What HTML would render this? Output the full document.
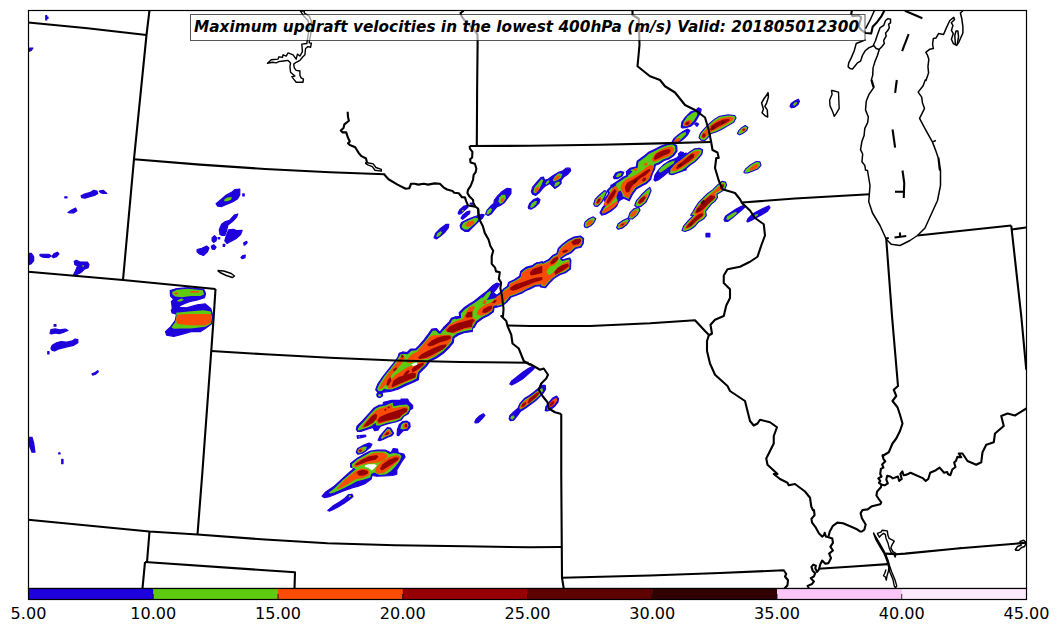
<!DOCTYPE html>
<html lang="en"><head><meta charset="utf-8"><title>Maximum updraft velocities</title>
<style>
html,body{margin:0;padding:0;background:#fff;}
body{width:1060px;height:633px;overflow:hidden;position:relative;font-family:"DejaVu Sans","Liberation Sans",sans-serif;}
svg{position:absolute;left:0;top:0;display:block;}
.b{fill:none;stroke:#000;stroke-width:2.1;stroke-linejoin:round;stroke-linecap:butt;}
.r{fill:none;stroke:#000;stroke-width:1.5;stroke-linejoin:round;}
.t{fill:none;stroke:#000;stroke-width:1.4;stroke-linejoin:round;}
.c0{fill:#1d00dc;stroke:#1d00dc;stroke-width:1.2;stroke-linejoin:round;}
.c1{fill:#5ecb10;stroke:none;}
.c0b{fill:#1d00dc;stroke:none;}
.c2{fill:#fa4c05;stroke:none;}
.c3{fill:#970000;stroke:none;}
.c4{fill:#5e0000;stroke:none;}
.hole{fill:#fff;stroke:none;}
.tick{font-size:16.67px;fill:#000;text-anchor:middle;}
.ttl{font-size:15.28px;font-weight:bold;font-style:italic;fill:#000;}
</style></head><body>
<svg width="1060" height="633" viewBox="0 0 1060 633">
<defs><clipPath id="ax"><rect x="28" y="10" width="998" height="578"/></clipPath></defs>
<rect x="0" y="0" width="1060" height="633" fill="#fff"/>
<g clip-path="url(#ax)">
<polygon class="c0" points="81.08,195.8 85.03,193.9 89.77,192.64 93.72,190.27 96.88,191.06 97.67,193.43 94.51,195.48 89.77,196.59 85.03,198.17 81.87,197.69"/>
<polygon class="c0" points="99.25,191.06 103.2,190.27 106.83,193.43 103.2,193.43 100.51,192.64"/>
<polygon class="c0" points="64.81,196.75 67.02,196.75 67.02,197.85 64.81,197.85"/>
<polygon class="c0" points="67.97,212.39 71.6,210.02 75.55,208.12 76.82,210.81 73.97,212.86 70.02,212.86"/>
<polygon class="c0" points="28.16,253.46 31.32,253.46 33.69,256.62 33.69,260.57 31.32,263.73 28.16,264.99"/>
<polygon class="c0" points="40.01,254.25 48.7,254.25 51.07,255.83 48.7,257.73 42.38,257.09 40.01,255.83"/>
<polygon class="c0" points="51.86,256.62 54.23,253.46 57.39,252.2 58.97,253.93 56.6,256.62 53.44,257.73"/>
<polygon class="c0" points="74.29,261.36 76.34,260.25 79.5,261.83 87.4,262.15 88.98,264.52 88.19,267.68 84.24,269.26 81.08,272.42 76.34,274.79 73.18,275.58 75.55,270.84 77.45,266.1 74.76,264.52"/>
<polygon class="c0" points="216.08,203.7 220.82,199.75 226.35,195.01 231.09,192.64 235.04,189.48 239.78,189.16 239.78,195.01 237.41,198.96 231.88,202.12 226.35,204.49 221.61,206.54 217.66,206.07"/>
<polygon class="c0" points="242.78,193.9 244.2,193.9 244.2,195.96 242.78,195.96"/>
<polygon class="c0" points="220.03,234.5 219.24,229.76 221.61,224.23 224.77,221.86 229.51,220.28 234.25,215.07 237.73,213.97 236.62,217.12 232.67,221.39 227.93,225.02 226.35,231.34 224.77,235.29 221.61,235.29"/>
<polygon class="c0" points="224.77,240.82 226.35,235.29 228.72,229.76 233.46,229.29 236.62,230.55 242.15,230.24 240.57,234.5 235.83,238.77 230.3,241.61 227.14,243.51"/>
<polygon class="c0" points="212.13,237.66 214.5,235.61 216.56,237.66 216.08,240.82 213.71,242.4 212.13,240.82"/>
<polygon class="c0" points="211.34,246.35 213.71,244.77 216.08,247.14 214.5,249.51 212.13,249.04"/>
<polygon class="c0" points="197.12,249.51 201.86,248.25 206.6,246.03 208.97,247.93 207.39,251.88 203.44,255.51 199.49,253.93 197.12,251.88"/>
<polygon class="c0" points="223.19,244.45 224.93,244.45 224.45,246.51 223.19,246.51"/>
<polygon class="c0" points="243.73,242.88 246.57,241.3 247.2,242.56 245.31,244.77 244.04,245.09"/>
<polygon class="c0" points="218.14,237.5 219.72,237.5 219.72,238.93 218.14,238.93"/>
<polygon class="c0" points="240.88,257.41 242.94,255.51 245.31,255.04 244.99,257.73 242.15,258.67"/>
<polygon class="c0" points="170.22,290.54 175.28,288.96 187.91,287.69 203.71,289.27 205.61,293.7 204.5,297.65 197.39,300.02 189.49,301.6 184.76,303.49 179.23,306.02 172.12,305.07 171.33,301.6 173.7,299.23 170.54,296.07"/>
<polygon class="c0" points="171.33,310.28 175.28,307.12 186.33,307.91 197.39,304.76 205.29,303.97 210.82,308.7 212.88,315.81 211.61,323.71 205.29,328.45 200.55,331.61 191.07,331.61 181.6,334.45 173.7,336.35 166.59,335.09 165.48,331.61 170.54,326.87 175.28,320.55 176.54,314.23 172.12,312.97"/>
<polygon class="c0" points="172.12,303.97 179.23,305.07 179.23,308.23 172.12,311.07"/>
<polygon class="c0" points="50.03,333.33 50.92,329.54 55.34,328.91 59.13,329.92 65.46,329.16 67.98,330.42 64.19,332.07 59.13,333.71 55.34,332.95 51.55,333.96"/>
<polygon class="c0" points="50.92,348.5 52.18,345.34 56.61,342.81 61.03,341.55 66.72,342.18 72.41,340.92 74.94,339.02 77.84,339.65 77.84,342.81 73.67,345.34 67.98,346.61 62.93,347.87 57.87,349.13 54.71,351.03 52.18,350.4"/>
<polygon class="c0" points="54.08,324.48 55.97,324.48 55.97,326.13 54.08,326.13"/>
<polygon class="c0" points="47.76,351.66 49.02,351.66 49.02,353.94 47.76,353.94"/>
<polygon class="c0" points="92,373.79 95.16,372.52 97.69,370.63 98.32,371.89 95.8,374.17 92.64,375.05"/>
<polygon class="c0" points="27.5,437.25 32,437.25 33.75,443.5 35,452.25 32,452.25 29.5,446 27.5,443.5"/>
<polygon class="c0" points="61.75,459.25 63,459.25 63,463.75 61.75,463.75"/>
<polygon class="c0" points="58.75,452.75 60,452.75 60,454 58.75,454"/>
<polygon class="c0" points="45.75,15.5 46.75,15.5 46.75,17 48,17 48,18.5 46.75,18.5 46.75,20 45.75,20"/>
<polygon class="c0" points="27.5,48 33,48 31.25,50.5 27.5,52"/>
<polygon class="c0" points="322.13,496.15 325.69,491.88 334.22,486.19 342.76,478.36 349.87,471.96 354.14,468.41 350.58,466.98 350.58,463.43 356.98,458.45 364.1,454.18 369.79,451.34 376.9,450.2 385.43,450.2 391.12,452.76 393.26,448.49 397.52,449.2 398.24,452.76 403.93,454.18 405.06,457.03 401.08,462.72 396.81,469.83 396.81,474.1 392.55,475.52 384.01,475.8 376.9,476.23 371.92,475.52 371.21,479.08 365.52,483.34 358.41,486.19 352.72,487.61 342.76,491.17 334.22,494.72 328.53,496.86 324.27,497.57"/>
<polygon class="c0" points="327.82,510.37 332.8,506.1 339.91,501.83 344.89,498.28 348.45,494.72 352.01,494.3 353,496.57 349.16,499.7 344.18,503.26 338.49,506.81 332.8,509.66 329.25,511.08"/>
<polygon class="c0" points="356.27,452.05 357.7,448.49 362.67,445.65 369.08,443.09 371.92,444.22 370.5,447.07 366.23,450.63 361.96,453.47 357.7,454.18"/>
<polygon class="c0" points="356.38,429.42 357.01,426.26 362.7,420.57 369.02,413.62 374.08,407.93 378.5,405.4 382.93,404.77 383.56,402.24 391.78,400.34 400.63,400.34 401.26,399.08 407.58,399.08 408.84,401.61 412.64,405.4 412.64,408.56 410.11,409.82 408.21,413.62 403.79,416.14 401.26,419.94 395.57,421.83 387.98,423.73 380.4,426.26 377.87,430.05 374.71,430.68 372.81,427.52 366.49,429.42 361.43,431.31 357.64,431.31"/>
<polygon class="c0" points="377.24,393.39 379.13,392.76 382.29,393.39 382.29,395.92 379.77,397.56 377.62,396.55"/>
<polygon class="c0" points="397.09,435.11 397.47,429.42 399.36,424.36 402.52,421.58 406.95,421.2 409.73,423.1 410.11,426.89 407.58,430.05 403.15,430.68 400.63,433.21 398.73,435.74"/>
<polygon class="c0" points="378.12,440.16 379.77,436.37 383.56,431.95 387.35,427.52 390.51,428.15 393.67,433.21 391.78,435.74 387.98,437 382.93,439.53 379.77,440.8"/>
<polygon class="c0" points="357.01,435.74 365.23,435.11 365.86,436.37 361.43,437.64 357.64,438.27"/>
<polygon class="c0" points="375.69,389.66 377.82,383.97 382.8,376.86 388.49,369.74 394.18,362.63 397.74,357.65 399.16,353.39 402.72,351.96 406.98,352.67 410.54,349.12 415.52,349.12 419.08,345.56 424.05,339.87 428.32,334.18 431.88,329.2 436.15,328.49 439.7,332.05 443.97,331.34 446.1,325.65 451.08,320.67 455.35,317.11 459.62,316.4 461.04,312.13 464.59,310 472.42,308.58 472.42,331.34 463.88,332.76 458.19,334.89 453.93,337.74 453.21,342.72 449.66,346.98 443.97,352.67 436.86,357.65 429.74,361.21 426.9,365.48 422.63,369.74 419.08,373.3 418.36,379.7 412.67,382.55 405.56,385.39 398.45,388.95 391.34,391.08 385.65,391.79 381.38,392.5 377.82,392.5"/>
<polygon class="c0" points="400.58,369.74 403,369.46 404.14,371.45 402.01,372.87"/>
<polygon class="c0" points="376.83,394.64 378.53,392.5 381.38,393.21 382.52,395.35 379.96,397.48 377.4,396.77"/>
<polygon class="c0" points="440,340.04 440,331.79 443.56,327.52 449.25,321.83 451.38,318.28 455.65,316.86 457.07,319.7 459.91,317.57 459.2,312.59 463.47,308.32 468.45,304.77 474.14,301.21 481.25,295.52 486.94,291.25 492.63,285.56 496.9,283 499.74,284.14 496.9,288.41 493.34,292.67 496.9,295.52 501.17,291.96 506.86,287.7 508.28,284.14 513.97,280.58 519.66,276.32 521.08,271.34 526.77,267.07 532.46,265.65 535.31,263.51 542.42,261.66 542.42,285.56 535.31,286.27 529.62,289.12 522.5,291.25 516.81,294.1 511.12,295.52 509.7,299.08 505.43,301.92 499.74,304.77 494.05,307.61 493.34,311.88 488.36,315.43 482.67,318.28 476.98,322.55 474.14,327.52 468.45,330.37 461.34,332.5 454.22,333.93 452.09,336.77 449.96,340.04"/>
<polygon class="c0" points="495.73,296.12 500,293.28 503.56,289.01 507.82,286.17 508.53,282.61 514.22,279.77 519.91,276.21 520.63,271.94 524.89,268.39 531.29,266.96 536.98,262.7 542.67,262.7 548.36,259.85 552.63,255.58 556.9,253.45 558.32,248.47 562.59,244.2 568.28,239.94 573.97,237.09 580.37,236.1 583.64,238.51 583.21,243.49 581.08,247.05 575.39,248.47 571.12,252.74 565.43,255.58 561.17,258.43 562.59,259.85 569.7,258 570.84,260.56 570.41,269.1 565.43,272.65 559.74,274.79 554.05,278.34 549.08,283.32 545.52,287.59 540.54,286.88 539.83,283.32 535.56,284.74 528.45,289.01 522.76,292.57 515.65,295.41 509.96,297.55 507.11,301.81 502.84,305.37 495.73,307.5"/>
<polygon class="c0" points="434.1,237.64 435.75,233.21 440.17,228.79 445.86,224.36 448.77,224.36 448.39,227.52 444.6,232.58 440.17,236.37 436.38,238.9"/>
<polygon class="c0" points="460.15,225.63 461.66,222.47 467.98,219.3 474.3,216.78 478.1,215.51 481.89,214.25 484.17,214.88 482.52,218.04 478.1,221.83 473.04,226.89 468.62,231.31 464.82,231.31 461.03,228.79"/>
<polygon class="c0" points="458.12,212.98 459.77,209.82 464.19,206.03 467.35,205.4 467.98,207.29 464.19,210.46 461.03,213.62 458.88,214.25"/>
<polygon class="c0" points="461.03,218.04 462.93,214.88 467.35,211.47 469.88,211.09 469.5,213.62 466.09,216.52 462.67,219.3"/>
<polygon class="c0" points="470.26,203.12 472.41,203.12 472.41,204.13 470.26,204.13"/>
<polygon class="c0" points="485.68,214.25 486.95,210.46 490.74,206.03 493.9,203.5 494.28,200.34 497.69,195.92 502.12,191.49 507.17,188.33 510.97,188.96 510.97,193.39 507.81,197.81 504.65,202.24 500.22,205.4 497.06,206.66 493.9,210.46 491.37,213.62 488.21,215.51"/>
<polygon class="c0" points="531.38,191.61 532.64,187.18 536.43,182.76 540.86,177.7 543.39,177.07 544.65,180.23 548.45,178.96 552.87,175.8 557.93,172.64 562.98,170.75 566.14,168.22 569.94,168.22 570.57,170.75 567.41,174.54 563.62,177.07 561.09,180.23 561.09,183.39 557.93,186.55 554.77,188.45 552.24,185.92 549.71,183.39 545.28,185.92 542.12,189.08 538.96,192.87 535.8,195.4 532.64,194.13"/>
<polygon class="c0" points="528.22,207.41 529.48,203.62 533.27,199.82 537.7,197.93 539.97,199.82 538.96,202.98 535.17,206.78 531.38,209.05 528.85,208.67"/>
<polygon class="c0" points="584.22,225.11 585.11,221.95 588.9,218.79 593.32,216.89 595.85,218.79 593.96,222.58 590.8,225.74 587,227.64 584.73,227"/>
<polygon class="c0" points="600.01,212.67 602.38,207.93 606.33,203.19 603.96,200.03 608.7,193.71 607.12,190.55 611.07,186.6 614.23,183.44 618.97,180.28 623.7,177.12 626.86,175.55 626.39,171.6 630.02,168.44 636.34,166.86 637.13,161.33 643.45,156.59 648.19,152.64 654.51,149.48 660.83,146.32 667.15,143.95 672.68,143.16 676.63,145.53 676.94,151.06 673.47,155.8 668.73,158.96 663.99,160.54 659.25,163.7 655.3,165.28 654.51,169.23 652.14,173.97 650.56,179.49 646.61,183.44 641.87,185.81 636.34,188.97 632.39,194.5 629.23,200.82 626.07,199.24 622.12,197.66 618.97,200.82 616.6,206.35 611.07,211.09 605.54,214.25 601.59,215.04"/>
<polygon class="c0" points="620.55,193.71 623.7,194.5 622.91,198.77 620.07,199.72"/>
<polygon class="c0" points="654.19,179.49 655.3,174.76 659.25,169.23 663.99,164.49 670.31,160.54 676.63,158.17 679.79,155.01 686.11,152.95 686.11,170.02 679.79,171.6 673.47,173.97 668.73,171.6 663.99,173.97 659.25,177.91 656.09,180.28"/>
<polygon class="c0" points="593.69,203.98 595.27,199.24 600.01,194.5 604.75,190.55 606.8,192.13 604.75,196.87 601.59,202.4 597.64,206.35 594.79,206.03"/>
<polygon class="c0" points="613.44,177.12 615.81,173.18 620.55,171.28 623.7,172.39 622.12,176.02 617.39,178.7 614.23,178.7"/>
<polygon class="c0" points="634.76,205.56 636.34,200.82 641.08,195.29 645.82,190.55 649.77,187.39 651.03,190.55 648.98,196.08 645.82,202.4 641.08,206.35 637.13,207.14"/>
<polygon class="c0" points="628.44,217.41 630.02,212.67 633.97,208.72 638.71,207.14 639.98,210.3 637.13,215.04 632.39,218.99 629.23,218.99"/>
<polygon class="c0" points="616.6,227.68 618.18,223.73 622.91,220.57 627.65,218.2 629.55,220.57 626.86,224.52 622.12,228.15 618.18,229.26"/>
<polygon class="c0" points="681.25,127.01 681.96,122.03 685.52,117.05 690.5,112.07 696.19,109.94 698.32,107.8 701.17,109.22 700.46,112.78 697.61,117.76 694.77,122.74 690.5,126.29 685.52,127.72 682.39,128"/>
<polygon class="c0" points="694.77,124.16 696.9,122.74 698.61,124.16 696.9,126.29"/>
<polygon class="c0" points="699.03,137.67 700.46,133.41 704.72,128.43 709.7,123.45 714.68,119.18 719.66,116.34 728.19,114.91 734.59,115.63 736.02,117.76 733.88,122.03 728.19,125.58 721.79,129.14 715.39,132.27 711.12,133.41 708.28,136.96 704.72,140.52 701.17,140.23"/>
<polygon class="c0" points="737.44,133.41 738.86,130.56 741.71,127.72 745.26,125.58 747.82,127.43 746.69,130.56 743.13,133.12 739.57,134.83"/>
<polygon class="c0" points="672.01,141.94 674.14,138.39 678.41,134.83 683.39,131.27 687.65,129.14 689.79,130.56 687.65,134.83 683.39,139.1 679.12,141.94"/>
<polygon class="c0" points="669.16,173.95 669.87,168.97 674.14,163.99 679.12,160.43 684.1,156.17 689.79,151.9 694.77,148.77 699.74,148.34 702.59,149.77 701.88,154.03 698.32,158.3 694.77,161.86 690.5,164.7 686.23,168.26 681.96,171.1 676.27,173.24 672.01,174.66"/>
<polygon class="c0" points="654.22,180.35 654.94,176.08 657.78,171.1 662.76,166.12 668.45,161.86 674.14,159.72 678.41,159.72 675.56,163.28 672.01,166.83 668.45,171.81 663.47,176.08 658.49,179.64 655.65,181.06"/>
<polygon class="c0" points="678.41,154.03 680.54,151.9 683.39,152.61 681.96,155.46 679.12,155.88"/>
<polygon class="c0" points="682.11,230.46 683.53,226.19 688.51,220.5 693.49,215.52 690.65,215.23 692.78,211.96 695.63,206.98 698.47,202.72 703.45,197.74 707.72,193.47 712.7,189.91 717.67,184.94 721.94,181.38 725.5,182.09 726.49,184.94 724.79,189.2 720.52,192.05 716.96,194.18 717.39,197.74 714.83,201.29 711.27,204.14 708.43,207.7 705.58,211.25 706.29,215.52 703.45,219.08 698.47,221.92 694.91,226.19 689.94,229.74 684.96,231.45"/>
<polygon class="c0" points="724.08,219.79 725.5,216.23 730.48,212.67 736.17,209.12 740.43,206.7 743.28,205.56 744.7,207.27 741.15,210.54 736.88,214.1 731.9,218.36 727.63,221.49 724.79,221.21"/>
<polygon class="c0" points="746.83,221.21 748.26,218.36 752.52,214.1 758.93,210.54 764.62,207.7 768.88,205.85 770.02,207.7 767.46,211.25 761.77,214.81 756.08,217.65 751.1,220.5 747.83,221.92"/>
<polygon class="c0" points="706.01,233.3 709.85,233.3 709.85,236.86 706.01,236.86"/>
<polygon class="c0" points="790.03,106.34 791.17,103.49 794.72,100.93 798.28,99.22 799.42,101.36 797.99,104.63 794.72,107.05 791.45,107.76"/>
<polygon class="c0" points="743.94,172.06 745.65,168.93 750.63,164.66 756.32,161.53 759.87,161.81 761.01,165.37 757.74,168.93 752.76,171.06 747.78,172.91 744.51,172.91"/>
<polygon class="c0" points="509.82,384.08 511.72,380.92 517.41,376.49 523.1,372.07 528.79,368.27 533.21,366.13 535.11,367.01 532.58,370.17 527.52,374.6 522.47,379.02 516.14,382.81 511.72,385.09"/>
<polygon class="c0" points="509.19,418.84 509.82,415.68 513.62,411.89 518.04,408.1 519.94,403.67 524.36,398.62 529.42,395.46 534.48,391.66 538.9,387.87 542.06,385.34 545.22,385.34 545.6,389.13 543.32,392.93 539.53,396.72 535.74,400.51 530.68,404.3 525.63,408.1 520.57,411.26 517.41,415.68 513.62,420.11 510.46,420.74"/>
<polygon class="c0" points="545.22,410.63 545.85,406.83 549.01,402.41 552.81,397.98 556.6,396.09 558.5,398.62 557.86,402.41 554.7,406.2 550.91,409.36 547.37,410.88"/>
<polygon class="c0" points="474.8,422 476.32,418.84 480.11,415.43 483.27,413.79 484.92,415.43 482.01,418.84 478.22,422.64 475.31,423.02"/>
<polygon class="c1" points="82.19,265.31 83.77,264.99 84.08,266.57 82.5,266.89"/>
<polygon class="c1" points="223.98,199.75 227.14,197.38 231.88,197.06 231.09,199.75 227.14,201.33 224.45,201.33"/>
<polygon class="c1" points="172.12,292.12 176.86,289.75 187.91,288.64 202.92,290.22 204.03,294.49 200.55,296.07 191.07,296.07 181.6,297.17 175.28,296.54 172.43,294.49"/>
<polygon class="c1" points="177.17,300.33 181.6,298.44 183.97,299.7 180.81,301.6 177.65,301.6"/>
<polygon class="c1" points="176.07,312.65 187.91,311.39 203.71,310.28 210.82,311.39 211.93,317.39 210.82,323.71 205.29,326.87 191.07,328.45 181.6,328.45 173.7,328.77 171.33,327.19 175.28,322.13 176.54,315.81"/>
<polygon class="c1" points="328.86,492.59 330.01,493.51 334.16,492.4 342.68,488.85 351.2,484.59 356.88,481.32 356.9,481.31 356.92,481.3 356.93,481.3 364.04,479.6 370.33,477.5 371.01,474.06 371.02,474.04 371.03,474.02 371.03,474 371.04,473.99 371.06,473.97 371.07,473.96 371.09,473.94 371.1,473.93 371.12,473.92 373.96,472.49 373.98,472.48 374,472.48 374.02,472.47 374.04,472.47 374.06,472.47 374.08,472.47 374.09,472.48 374.11,472.48 374.13,472.49 379.77,475.02 386.08,474.19 390.99,471.09 395.24,466.85 399.49,461.19 401.56,456.36 399.55,454.08 393.98,452.97 389.75,454.09 389.73,454.1 389.71,454.1 389.69,454.1 389.67,454.1 389.65,454.09 389.63,454.09 389.61,454.08 389.6,454.07 385.37,451.54 378.32,451.25 371.27,451.82 365.62,455.06 365.62,455.07 357.81,459.33 351.79,464.23 352.19,467.56 355.63,468.93 355.65,468.94 355.67,468.95 355.69,468.96 355.7,468.98 355.71,468.99 355.73,469.01 355.74,469.02 355.74,469.04 355.75,469.06 355.76,469.08 355.76,469.1 355.76,469.12 355.76,469.14 355.76,469.16 355.75,469.18 355.75,469.2 355.74,469.21 355.73,469.23 355.72,469.25 355.7,469.26 355.69,469.27 351.42,472.82 342.9,479.94 334.36,488.46 334.34,488.48 328.86,492.59"/>
<polygon class="c1" points="348.45,495.72 350.58,495.15 351.29,496.57 349.16,497.57"/>
<polygon class="c1" points="357.27,451.34 359.12,448.49 363.39,446.79 366.94,446.79 365.8,449.91 361.96,452.48 358.41,453.04"/>
<polygon class="c1" points="357.62,429.4 358.36,430.45 360.74,429.86 366.42,427.96 371.45,426.08 375.21,422.95 375.23,422.93 375.24,422.92 375.26,422.92 375.28,422.91 375.3,422.9 375.32,422.9 375.34,422.9 375.36,422.9 375.37,422.9 375.39,422.91 375.41,422.91 375.43,422.92 375.45,422.93 375.46,422.94 375.48,422.95 375.49,422.97 375.5,422.98 375.51,423 375.52,423.02 375.53,423.03 375.53,423.05 376.13,425.43 379.73,425.43 386.65,422.91 386.67,422.91 386.68,422.9 394.25,421.39 400.51,419.13 402.99,416.02 403.01,416 403.02,415.99 403.04,415.97 406.81,413.48 409.28,409.75 409.52,406.75 406.88,404.59 400.65,404.97 393.71,406.23 393.69,406.23 393.67,406.23 393.65,406.23 393.63,406.23 393.61,406.22 393.59,406.21 393.58,406.21 393.56,406.2 393.54,406.19 393.53,406.17 393.52,406.16 393.51,406.14 393.5,406.13 393.49,406.11 393.48,406.09 393.48,406.08 392.65,402.5 389.33,403.68 385.55,405.58 385.53,405.59 385.52,405.59 385.5,405.6 379.2,406.85 375.46,408.72 370.43,413.76 364.11,421.33 364.1,421.34 359.08,426.38 357.62,429.4"/>
<polygon class="c1" points="378.12,394.65 379.77,394.02 381.41,395.28 380.15,396.8 378.5,396.3"/>
<polygon class="c1" points="400.24,428.65 403.16,429.46 407.07,428.61 408.62,425.62 407.44,422.67 403.86,422.67 401.43,424.48 400.24,428.65"/>
<polygon class="c1" points="380.69,438.16 382.27,438.68 385.36,436.83 385.38,436.82 385.4,436.81 389.78,435.31 392.15,433.17 389.76,429.35 387.43,429 383.09,433.96 380.69,438.16"/>
<polygon class="c1" points="358.65,435.99 359.92,435.99 359.92,437.26 358.65,437.26"/>
<polygon class="c1" points="377.06,388.93 378.63,391.16 382,390.89 384.08,388.81 384.09,388.79 384.11,388.78 384.13,388.77 384.15,388.76 384.17,388.76 384.19,388.75 384.21,388.75 384.23,388.75 384.25,388.75 384.27,388.76 387.09,389.46 391.31,389.46 397.66,387.33 404.76,383.79 404.78,383.78 411.87,380.94 416.76,378.15 417.88,372.55 417.89,372.53 417.9,372.51 417.9,372.49 417.92,372.48 417.93,372.46 421.34,368.48 421.36,368.46 425.6,364.64 428.44,359.97 428.45,359.95 428.46,359.94 428.48,359.92 428.49,359.91 428.51,359.9 428.52,359.89 435.62,356.49 442.7,351.39 448.09,346.13 451.6,341.92 452.59,336.99 452.6,336.97 452.61,336.95 452.62,336.93 452.63,336.92 452.64,336.9 452.65,336.88 452.67,336.87 457.36,333.31 457.38,333.3 457.4,333.29 457.42,333.28 463.82,331.15 463.83,331.15 463.85,331.14 472.22,329.74 472.22,310.23 466.81,310.9 463.33,313.69 461.22,317.91 461.21,317.93 461.2,317.94 461.19,317.96 461.17,317.97 461.16,317.98 461.14,317.99 461.12,318 461.1,318.01 461.09,318.01 456.85,319.01 452.35,322.24 447.68,327.19 444.42,332.86 444.41,332.88 444.4,332.89 444.39,332.91 444.37,332.92 444.35,332.93 444.34,332.94 444.32,332.95 444.3,332.95 444.28,332.96 439.02,333.67 439,333.67 438.98,333.67 438.96,333.67 438.94,333.66 438.92,333.66 438.9,333.65 438.88,333.64 438.86,333.63 438.85,333.61 435.65,330.41 432.7,330.82 429.62,335.01 429.62,335.01 425.35,340.7 425.34,340.71 420.22,346.4 420.21,346.41 416.37,350.25 416.36,350.26 416.34,350.28 416.32,350.29 416.31,350.3 416.29,350.3 416.27,350.31 416.25,350.31 411.34,350.73 407.84,354.24 407.83,354.25 407.81,354.27 407.79,354.28 407.78,354.28 407.76,354.29 407.74,354.3 407.72,354.3 407.7,354.3 407.68,354.3 404.85,354.01 400.69,354.29 399.33,356.34 395.77,362.03 395.76,362.04 390.07,369.15 384.38,376.27 379.42,384.07 377.06,388.93"/>
<polygon class="c1" points="378.25,395.06 379.67,393.93 381.1,395.06 379.96,396.49"/>
<polygon class="c1" points="441.34,339.84 448.98,339.84 450.92,336.11 450.93,336.09 450.94,336.08 450.95,336.06 454.07,332.65 454.09,332.64 454.1,332.63 454.12,332.62 454.14,332.61 454.16,332.6 454.18,332.59 461.29,331.18 467.8,329.04 473.15,326.38 475.96,321.31 475.96,321.3 475.98,321.28 475.99,321.27 476,321.26 476.01,321.25 481.99,316.98 482.01,316.97 482.02,316.96 487.7,314.13 492.17,311.05 493,306.57 493.01,306.56 493.01,306.54 493.02,306.52 493.03,306.5 493.04,306.49 493.05,306.47 493.07,306.46 493.08,306.45 493.1,306.44 493.11,306.43 499.08,303.59 504.76,300.75 508.68,297.95 510.08,294.31 510.09,294.29 510.1,294.27 510.11,294.26 510.12,294.24 510.14,294.23 510.15,294.22 510.17,294.21 510.19,294.2 510.21,294.19 510.23,294.18 516.46,292.77 522.13,289.93 522.15,289.92 522.16,289.92 529.26,287.79 534.93,284.96 534.95,284.95 534.96,284.95 534.98,284.94 535,284.94 542.22,284.24 542.22,263.06 535.96,264.83 533.15,266.95 533.13,266.96 533.12,266.97 533.1,266.98 533.08,266.98 527.43,268.39 522.1,272.45 520.7,277.36 520.7,277.38 520.69,277.4 520.68,277.42 520.67,277.43 520.66,277.45 520.64,277.46 520.63,277.47 514.94,281.74 514.93,281.75 509.29,285.27 507.9,288.76 507.89,288.78 507.88,288.8 507.87,288.81 507.86,288.83 507.84,288.84 507.83,288.85 502.14,293.12 497.74,296.81 497.73,296.82 497.71,296.83 497.7,296.84 494.14,298.54 494.12,298.55 494.11,298.55 494.09,298.56 486.98,299.99 486.96,299.99 486.94,299.99 486.92,299.99 486.9,299.99 486.88,299.98 486.87,299.98 486.85,299.97 486.83,299.96 486.82,299.95 486.8,299.93 486.79,299.92 486.78,299.9 486.77,299.89 486.76,299.87 486.75,299.85 486.75,299.83 486.74,299.82 486.74,299.8 486.74,299.78 486.74,299.76 486.75,299.74 486.75,299.72 486.76,299.7 486.77,299.69 486.78,299.67 488.91,296.83 490.99,292.65 490.39,290.84 487.07,292.82 482.82,297.78 482.81,297.79 482.79,297.81 482.78,297.82 482.76,297.83 482.74,297.84 482.72,297.84 482.7,297.85 482.69,297.85 482.67,297.85 482.65,297.85 482.63,297.85 482.61,297.84 482.59,297.83 482.57,297.82 482.56,297.81 482.54,297.8 482.53,297.79 482.51,297.77 482.07,297.22 475.11,302.51 475.09,302.52 469.41,305.93 464.6,309.61 460.84,313.38 461.25,318.54 461.25,318.56 461.25,318.58 461.25,318.6 461.24,318.62 461.23,318.64 461.22,318.66 461.21,318.68 461.2,318.69 461.19,318.71 461.17,318.72 461.15,318.73 457.45,321.01 457.44,321.02 457.42,321.03 457.4,321.03 457.38,321.04 457.36,321.04 457.34,321.04 457.32,321.04 457.3,321.03 457.29,321.03 457.27,321.02 457.25,321.01 457.23,321 457.22,320.99 457.2,320.98 457.19,320.96 455.3,318.53 452.23,319.86 450.41,322.93 450.4,322.95 450.39,322.96 445.84,328.08 445.83,328.1 441.34,332.31 441.34,339.84"/>
<polygon class="c1" points="523.21,280.58 526.77,277.74 529.62,276.32 531.04,277.74 527.48,280.58 524.64,282.01"/>
<polygon class="c1" points="496.83,296.71 496.83,306.02 502.31,304.38 506.28,301.07 509.05,296.94 509.11,296.85 509.19,296.76 509.28,296.69 509.37,296.62 509.47,296.57 509.57,296.52 515.25,294.38 522.26,291.59 527.87,288.08 527.88,288.07 534.99,283.8 535.1,283.74 535.21,283.7 539.48,282.28 539.59,282.25 539.7,282.23 539.81,282.22 539.92,282.22 540.02,282.24 540.13,282.26 540.23,282.3 540.33,282.34 540.43,282.4 540.52,282.46 540.6,282.53 540.67,282.62 540.74,282.7 540.8,282.8 540.84,282.9 540.88,283 540.91,283.1 541.47,285.9 545.07,286.41 548.24,282.62 548.3,282.54 553.27,277.56 553.37,277.48 553.47,277.41 559.16,273.86 559.25,273.8 559.35,273.76 564.91,271.67 569.34,268.51 569.73,260.77 569.07,259.3 562.87,260.91 562.77,260.94 562.66,260.95 562.56,260.95 562.45,260.94 562.35,260.92 562.25,260.9 562.15,260.86 562.06,260.81 561.97,260.76 561.89,260.7 561.81,260.63 560.39,259.21 560.32,259.13 560.26,259.04 560.2,258.95 560.15,258.85 560.12,258.75 560.09,258.64 560.08,258.54 560.07,258.43 560.08,258.32 560.09,258.22 560.12,258.11 560.15,258.01 560.2,257.91 560.26,257.82 560.32,257.73 560.39,257.65 560.47,257.58 560.56,257.52 564.82,254.67 564.94,254.6 570.47,251.84 574.61,247.69 574.69,247.63 574.76,247.57 574.85,247.51 574.94,247.47 575.03,247.43 575.12,247.4 580.37,246.09 582.14,243.14 582.49,239.03 580.09,237.26 574.31,238.15 568.86,240.88 563.31,245.03 559.3,249.05 557.96,253.75 557.92,253.86 557.87,253.96 557.81,254.06 557.75,254.15 557.67,254.24 557.58,254.31 557.49,254.38 557.39,254.43 553.28,256.48 549.14,260.63 549.05,260.71 548.95,260.78 548.85,260.83 543.16,263.68 543.07,263.72 542.97,263.76 542.87,263.78 542.77,263.8 542.67,263.8 537.35,263.8 531.95,267.84 531.85,267.91 531.75,267.96 531.64,268 531.53,268.03 525.39,269.41 521.65,272.52 520.99,276.39 520.97,276.49 520.94,276.59 520.9,276.69 520.85,276.78 520.79,276.86 520.73,276.94 520.66,277.02 520.58,277.08 520.49,277.14 514.8,280.7 514.71,280.75 509.5,283.35 508.9,286.39 508.87,286.49 508.84,286.59 508.79,286.69 508.73,286.78 508.67,286.87 508.6,286.95 508.52,287.02 508.43,287.09 504.3,289.84 500.84,293.98 500.77,294.06 500.69,294.13 500.61,294.2 496.83,296.71"/>
<polygon class="c1" points="546.94,269.1 549.79,266.25 553.34,266.96 551.21,270.52 548.36,272.65"/>
<polygon class="c1" points="523.47,279.05 527.74,276.92 530.58,278.34 526.32,281.19"/>
<polygon class="c1" points="562.59,246.34 566.15,244.2 568.28,245.63 564.72,248.47"/>
<polygon class="c1" points="436.13,236.37 437.64,233.21 440.8,230.94 442.07,232.58 439.92,235.49 437.39,237"/>
<polygon class="c1" points="461.66,225.63 463.56,222.84 469.25,219.94 475.57,217.41 478.73,218.67 476.2,222.47 471.78,226.26 467.98,229.42 464.44,229.42 462.29,227.9"/>
<polygon class="c1" points="461.66,211.09 462.93,209.44 463.94,210.46 462.67,211.97"/>
<polygon class="c1" points="498.32,201.61 499.34,197.18 502.12,194.65 505.28,194.65 505.91,198.45 503.13,202.24 500.22,203.88"/>
<polygon class="c1" points="486.31,213.99 487.58,210.46 490.49,207.93 492.26,209.19 490.74,212.35 488.21,214.5"/>
<polygon class="c1" points="533.27,192.24 534.54,187.18 538.33,182.76 541.49,178.96 543.39,180.23 541.49,184.65 538.96,189.71 535.8,193.5"/>
<polygon class="c1" points="545.28,184.02 547.18,180.86 549.71,180.23 548.82,182.76 546.55,184.65"/>
<polygon class="c1" points="552.62,180.23 554.77,176.43 558.56,173.27 562.35,173.91 561.09,177.7 557.29,180.23 554.13,181.49"/>
<polygon class="c1" points="554.13,185.92 555.4,182.76 558.56,181.49 560.2,182.76 557.93,185.28 555.4,186.8"/>
<polygon class="c1" points="530.11,207.03 531.63,203.62 534.92,201.09 537.07,201.09 536.18,203.99 533.27,207.03 531.13,208.04"/>
<polygon class="c1" points="584.84,225.11 585.22,226.51 586.94,227 590.44,225.25 593.47,222.22 595.09,218.97 593.24,217.58 589.22,219.31 585.64,222.29 584.84,225.11"/>
<polygon class="c1" points="601.63,212.57 602.23,213.48 605.04,212.92 610.26,209.94 615.44,205.5 617.68,200.27 617.74,200.15 617.81,200.04 617.89,199.93 617.98,199.83 621.13,196.67 621.23,196.58 621.34,196.5 621.45,196.43 621.58,196.37 621.71,196.32 621.84,196.29 621.97,196.27 622.11,196.26 622.24,196.27 622.38,196.28 622.51,196.32 622.64,196.36 626.59,197.94 626.7,197.99 628.6,198.94 631.14,193.87 631.19,193.78 631.25,193.69 635.2,188.16 635.29,188.04 635.4,187.93 635.52,187.84 635.65,187.75 641.18,184.59 641.24,184.56 645.78,182.29 649.31,178.76 650.79,173.58 650.84,173.46 650.89,173.34 653.17,168.77 653.93,165.01 653.96,164.87 654.01,164.74 654.07,164.61 654.14,164.5 654.22,164.38 654.32,164.28 654.42,164.19 654.53,164.11 654.65,164.04 654.78,163.98 658.59,162.45 663.21,159.38 663.32,159.31 663.43,159.26 663.55,159.21 668.11,157.69 672.49,154.77 675.51,150.64 675.27,146.35 672.39,144.62 667.5,145.31 661.39,147.61 655.14,150.73 648.96,153.82 644.35,157.67 644.29,157.71 638.43,162.1 637.73,167.06 637.7,167.19 637.66,167.33 637.61,167.45 637.54,167.58 637.47,167.69 637.38,167.8 637.28,167.9 637.18,167.98 637.06,168.06 636.94,168.13 636.81,168.18 636.68,168.22 630.69,169.72 627.87,172.17 628.25,175.38 628.26,175.52 628.26,175.65 628.24,175.78 628.21,175.91 628.17,176.04 628.12,176.16 628.06,176.27 627.99,176.38 627.9,176.49 627.81,176.58 627.71,176.66 627.6,176.74 627.48,176.8 624.4,178.33 619.75,181.44 615.12,184.53 612.06,187.59 608.82,190.83 609.95,193.08 610.01,193.21 610.05,193.35 610.08,193.48 610.1,193.62 610.1,193.77 610.09,193.91 610.06,194.04 610.02,194.18 609.97,194.31 609.9,194.43 609.82,194.55 605.71,200.03 607.45,202.35 607.53,202.46 607.59,202.58 607.64,202.7 607.68,202.83 607.71,202.96 607.73,203.09 607.73,203.23 607.72,203.36 607.7,203.49 607.66,203.62 607.62,203.75 607.56,203.87 607.49,203.98 607.41,204.09 603.56,208.7 601.63,212.57"/>
<polygon class="c1" points="658.46,170.81 662.41,166.86 668.73,162.91 675.05,160.22 673.47,163.7 667.15,166.86 661.62,170.81"/>
<polygon class="c1" points="594.34,203.92 595.17,205.47 597.42,205.72 601.11,202.03 604.21,196.6 606.06,192.32 604.76,191.32 600.42,194.94 595.79,199.56 594.34,203.92"/>
<polygon class="c1" points="615.81,176.33 617.86,173.49 621.65,172.86 621.02,175.55 617.39,177.6"/>
<polygon class="c1" points="635.47,205.31 637.26,206.5 640.81,205.79 645.34,202.02 648.43,195.84 650.39,190.56 649.51,188.36 646.22,191 641.52,195.7 636.87,201.12 635.47,205.31"/>
<polygon class="c1" points="629.09,217.36 629.6,218.39 632.17,218.39 636.67,214.64 639.31,210.25 638.36,207.89 634.29,209.24 630.54,212.99 629.09,217.36"/>
<polygon class="c1" points="617.3,227.54 618.36,228.59 621.85,227.6 626.42,224.1 628.8,220.6 627.48,218.95 623.21,221.09 618.67,224.13 617.3,227.54"/>
<polygon class="c1" points="682.67,125.58 684.1,121.32 687.65,116.34 692.63,112.78 697.61,111.36 696.9,115.63 694.05,120.6 689.79,124.87 685.52,126.58"/>
<polygon class="c1" points="699.59,137.56 701.42,139.75 704.53,140 707.91,136.63 710.73,133.1 710.76,133.06 710.8,133.02 710.85,132.99 710.89,132.96 710.94,132.94 710.99,132.93 715.21,131.8 721.56,128.7 727.94,125.15 733.5,121.68 735.44,117.8 734.3,116.1 728.2,115.41 719.83,116.82 714.97,119.59 710.04,123.82 705.09,128.77 700.9,133.66 699.59,137.56"/>
<polygon class="c1" points="738.08,133.24 739.61,134.26 742.87,132.69 746.27,130.24 747.22,127.61 745.24,126.18 742.02,128.12 739.27,130.86 738.08,133.24"/>
<polygon class="c1" points="674.14,141.23 676.27,137.67 681.25,133.69 685.52,131.7 686.23,134.12 682.67,137.67 679.12,140.8"/>
<polygon class="c1" points="670.05,173.35 671.98,173.83 676,172.49 681.59,170.38 685.75,167.62 689.99,164.09 690.06,164.03 694.26,161.24 697.73,157.76 701.13,153.68 701.7,150.22 699.58,149.16 695.03,149.55 690.24,152.56 684.6,156.79 679.64,161.04 679.59,161.08 674.68,164.58 670.63,169.31 670.05,173.35"/>
<polygon class="c1" points="658.49,171.81 661.34,167.55 667.03,163.28 673.43,160.72 674.14,162.57 669.87,166.12 664.89,169.68 660.63,172.52"/>
<polygon class="c1" points="682.74,230.15 684.96,230.92 689.71,229.29 694.57,225.82 698.09,221.6 698.12,221.57 698.15,221.54 698.18,221.51 698.22,221.49 703.12,218.69 705.76,215.38 705.09,211.33 705.08,211.29 705.08,211.24 705.08,211.19 705.09,211.15 705.1,211.1 705.12,211.06 705.14,211.01 705.16,210.97 705.19,210.94 708.04,207.39 710.88,203.83 710.92,203.79 710.96,203.75 714.46,200.94 716.87,197.61 716.46,194.24 716.46,194.19 716.46,194.14 716.47,194.1 716.48,194.05 716.49,194 716.51,193.96 716.53,193.92 716.56,193.88 716.59,193.84 716.63,193.81 716.66,193.78 716.7,193.75 720.25,191.63 724.38,188.87 725.96,184.93 725.12,182.52 722.08,181.92 718.01,185.31 713.05,190.26 713.02,190.29 712.99,190.32 708.04,193.85 703.8,198.09 698.86,203.04 696.06,207.24 693.21,212.21 693.2,212.23 691.52,214.82 693.54,215.02 693.59,215.03 693.64,215.04 693.68,215.06 693.73,215.08 693.77,215.11 693.81,215.13 693.84,215.17 693.88,215.2 693.91,215.24 693.93,215.29 693.95,215.33 693.97,215.38 693.98,215.42 693.99,215.47 693.99,215.52 693.99,215.57 693.98,215.62 693.97,215.67 693.95,215.71 693.93,215.76 693.91,215.8 693.88,215.84 693.84,215.87 688.88,220.84 683.97,226.44 682.74,230.15"/>
<polygon class="c1" points="725.92,219.08 727.63,216.23 731.9,213.39 736.17,211.54 736.88,213.39 732.61,216.94 728.34,220.07"/>
<polygon class="c1" points="753.24,216.23 755.37,214.38 758.21,213.81 757.5,215.8 754.66,217.23"/>
<polygon class="c1" points="792.59,104.91 794.3,102.78 796.86,101.79 796.86,103.78 794.72,105.63"/>
<polygon class="c1" points="744.52,172.03 744.78,172.41 747.69,172.41 752.57,170.6 757.44,168.51 760.45,165.25 759.5,162.28 756.43,162.04 750.92,165.07 746.04,169.25 744.52,172.03"/>
<polygon class="c1" points="510.2,418.21 511.47,415.68 514.25,415.43 514.5,417.58 512.35,419.73"/>
<polygon class="c1" points="519.3,408.1 520.57,404.3 524.99,399.5 530.05,396.47 535.11,392.67 539.53,389.13 542.31,388.12 543.07,391.03 540.8,394.19 537,397.98 532.58,401.52 527.52,404.94 523.1,408.1 520.32,409.61"/>
<polygon class="c1" points="546.86,409.61 547.75,406.83 550.28,407.47 549.01,409.99"/>
<polygon class="c0b" points="616.6,192.13 620.55,190.55 622.6,194.5 622.12,199.24 618.97,201.61 616.6,198.45"/>
<polygon class="c0b" points="610.28,185.02 614.23,182.97 616.6,185.02 613.44,187.39 610.59,187.39"/>
<polygon class="c0b" points="626.39,172.39 630.02,170.02 632.39,171.6 629.23,174.76 626.86,175.07"/>
<polygon class="c2" points="173.7,293.38 176.07,292.12 178.44,293.38 176.07,294.96"/>
<polygon class="c2" points="190.28,291.01 198.97,291.01 198.97,292.59 190.28,292.59"/>
<polygon class="c2" points="177.65,314.55 189.49,313.92 210.82,313.92 211.3,322.13 205.29,325.61 189.49,325.29 181.6,324.5 176.86,323.71 176.07,318.97"/>
<polygon class="c2" points="353.54,465.63 354.15,466.87 356.22,467.23 361.07,465.15 361.11,465.13 361.14,465.12 366.83,463.7 366.9,463.69 374,462.98 379.61,462.28 383.76,460.2 387.78,456.86 387.19,454.51 382.51,452.51 372.75,453.2 365.73,456.72 357.27,461.37 353.54,465.63"/>
<polygon class="c2" points="375.25,470.56 375.85,472.35 378.4,473.64 383.84,472.96 389.42,468.77 395.09,463.81 399.51,459.66 399.89,456.18 396.78,454.94 389.88,456.74 382.86,460.95 377.27,465.83 375.25,470.56"/>
<polygon class="c2" points="337.05,488.87 337.79,489.24 342.55,487.21 349.64,482.96 355.32,479.41 355.36,479.39 355.39,479.37 355.43,479.36 355.47,479.35 362.53,477.93 368.7,475.19 369.58,472.05 367.41,469.12 361.32,468.58 355.79,470.93 348.74,476.57 341.67,482.94 337.05,488.87"/>
<polygon class="c2" points="357.7,451.05 359.83,448.49 362.67,448.49 362.67,451.34 359.83,452.76"/>
<polygon class="c2" points="361.48,427.34 362.73,427.93 366.95,426.47 371.91,423.99 375.65,420.25 375.68,420.22 375.72,420.2 375.76,420.17 375.8,420.15 375.84,420.14 375.88,420.13 375.93,420.12 375.97,420.12 376.01,420.12 376.06,420.13 376.1,420.14 376.14,420.15 376.18,420.17 376.22,420.2 376.25,420.22 376.29,420.25 376.32,420.28 376.34,420.32 376.37,420.36 376.39,420.4 376.4,420.44 376.41,420.48 376.99,423.36 379.12,423.89 385.33,422.04 385.35,422.03 392.93,420.13 399.73,418.27 402.17,415.23 402.2,415.19 402.24,415.16 402.28,415.13 407.19,412.06 408.33,408.06 406.78,406.5 399.42,407.11 393.13,408.37 393.09,408.38 393.04,408.38 393,408.38 392.96,408.37 392.92,408.36 392.87,408.35 392.84,408.33 392.8,408.31 392.76,408.28 392.73,408.26 392.7,408.23 392.67,408.19 392.65,408.16 392.63,408.12 392.61,408.08 392.6,408.04 392.59,407.99 392.05,404.15 386.9,406.44 386.85,406.46 380.55,408.35 376.23,410.2 370.61,415.81 364.32,423.38 361.48,427.34"/>
<polygon class="c2" points="402.9,426.89 403.79,423.73 406.95,423.1 408.21,425.63 406.95,428.15 404.42,428.79"/>
<polygon class="c2" points="382.29,437 384.82,432.96 387.73,430.05 389.88,430.68 391.14,433.21 388.62,435.11 384.82,436.37"/>
<polygon class="c2" points="379.13,388.09 380.68,389.13 383.22,387.6 386.69,383.72 389.51,378.08 389.52,378.05 389.54,378.02 393.1,373.04 393.13,373.01 393.15,372.98 397.41,368.72 401.65,363.78 405.04,358.34 403.89,356.03 400.86,356.63 398.84,360.02 398.81,360.07 393.83,366.47 393.82,366.47 388.14,373.57 382.47,382.06 379.13,388.09"/>
<polygon class="c2" points="387.55,386.83 388.1,388.5 391.26,388.5 396.85,386.4 403.94,382.86 403.97,382.84 411.05,380 415.84,377.27 417.21,371.77 417.22,371.73 417.24,371.69 417.26,371.66 417.28,371.62 417.3,371.59 417.33,371.56 421.6,367.29 425.6,363.3 423.87,361.01 418.52,362.34 412.87,365.17 412.83,365.19 407.19,367.3 400.83,371.54 400.82,371.55 395.18,375.07 390.29,380.65 387.55,386.83"/>
<polygon class="c2" points="406.75,359.92 407.35,362.89 411.17,362.89 416.78,360.79 416.83,360.77 422.52,359.35 422.57,359.34 428.19,358.64 435.19,355.14 441.54,350.19 447.2,345.24 450.67,341.07 451.98,336.49 449.51,334.63 444,334.63 438.34,335.34 438.28,335.34 433.39,335.34 430.01,336.7 425.82,341.58 425.82,341.59 420.84,347.27 417.29,351.54 417.25,351.57 417.22,351.6 417.18,351.63 417.14,351.65 411.53,354.46 406.75,359.92"/>
<polygon class="c2" points="445.26,329.97 446.37,331.65 449.75,332.32 449.8,332.33 453.9,333.69 457.99,331.65 458.03,331.63 463.72,329.49 463.76,329.48 463.81,329.47 471.97,328.11 471.97,311.24 468.34,311.84 464.95,314.56 462.87,319.01 462.85,319.05 462.82,319.09 462.8,319.12 462.77,319.15 462.73,319.18 462.7,319.2 462.66,319.22 462.62,319.24 462.58,319.25 458.36,320.38 453.45,323.18 448.53,326.7 445.26,329.97"/>
<polygon class="c2" points="445.47,329.06 446.06,331.42 448.56,332.04 454.15,331.35 461.21,329.94 468.25,327.12 473.79,323.66 475.71,319.82 472.6,317.34 464.29,318.72 455.82,321.54 448.82,325.04 445.47,329.06"/>
<polygon class="c2" points="465.43,315.91 467.65,317.02 470.24,314.42 473.05,310.93 474.98,307.05 473.36,305.98 469.45,307.28 466.73,311.36 465.43,315.91"/>
<polygon class="c2" points="476.79,312.62 478,315.03 481.22,315.69 487.44,313.6 492.22,310.2 492.9,306.81 492.91,306.77 492.92,306.73 492.94,306.69 492.97,306.65 492.99,306.61 493.02,306.58 496.58,303.02 496.62,302.99 496.66,302.96 502.31,299.44 506.51,295.23 509.04,291.42 506.92,290.36 503.58,293.02 500.02,295.87 499.98,295.9 494.31,299.45 490.08,302.98 490.04,303.01 489.99,303.03 489.95,303.05 484.31,305.17 479.45,308.64 476.79,312.62"/>
<polygon class="c2" points="482.67,301.92 484.81,299.79 486.94,301.21 485.23,304.05 483.1,304.05"/>
<polygon class="c2" points="508.75,288.44 509.4,291.02 511.26,292.89 516.68,291.53 528.03,287.28 533.72,285.14 533.76,285.13 533.79,285.12 541.97,283.48 541.97,264.15 532.61,267.49 526.98,269.6 522.19,273.03 520.81,278.56 520.79,278.6 520.78,278.64 520.75,278.68 520.73,278.72 520.7,278.76 520.67,278.79 520.63,278.82 515.65,282.38 515.62,282.4 515.59,282.41 510.05,285.18 508.75,288.44"/>
<polygon class="c2" points="496.18,297.11 496.18,305.42 502.59,302.86 506.79,298.65 509.64,295.8 509.68,295.77 509.72,295.74 509.76,295.72 509.8,295.7 515.49,293.57 522.57,290.74 528.92,287.21 536.01,282.24 536.05,282.22 536.1,282.19 536.15,282.18 541.13,280.76 541.17,280.75 541.21,280.74 541.26,280.74 541.3,280.74 541.35,280.75 541.39,280.76 541.43,280.78 541.47,280.8 541.51,280.82 541.54,280.85 541.58,280.88 541.61,280.91 541.63,280.95 541.65,280.99 541.67,281.03 541.68,281.07 541.69,281.12 541.7,281.16 541.97,285.09 544.64,285.67 548.01,281.61 548.06,281.57 553.04,277.02 553.06,276.99 553.09,276.97 558.78,273.27 558.82,273.25 558.85,273.24 564.49,270.84 568.96,267.46 568.58,261.24 562.82,263.8 557.21,268 553.69,272.23 553.66,272.26 553.62,272.29 553.59,272.31 549.33,275.16 549.29,275.19 549.25,275.21 549.21,275.22 549.16,275.23 549.12,275.24 549.07,275.24 549.03,275.24 548.98,275.23 548.94,275.22 548.9,275.2 548.86,275.18 548.82,275.16 548.78,275.13 548.75,275.1 548.72,275.06 546.58,272.21 546.56,272.17 546.53,272.14 546.52,272.1 546.5,272.05 546.5,272.01 546.49,271.97 546.49,271.92 546.49,271.88 546.5,271.84 546.51,271.8 546.53,271.76 546.55,271.72 549.4,266.74 549.42,266.7 549.45,266.66 549.49,266.63 549.52,266.6 549.56,266.57 549.6,266.55 549.65,266.53 553.81,265.15 556.54,262.42 559.35,257.77 559.38,257.73 559.41,257.7 559.44,257.67 559.47,257.64 563.74,254.51 563.78,254.49 563.81,254.47 569.43,251.66 573.64,247.17 573.67,247.14 573.71,247.11 573.75,247.09 573.79,247.07 573.83,247.05 573.87,247.04 578.72,245.93 581.36,243.29 581.75,239.44 579.57,238 574.83,238.94 569.23,241.74 563.6,245.97 559.43,250.13 558.04,254.99 558.03,255.04 558.01,255.08 557.98,255.12 557.96,255.16 557.92,255.19 557.89,255.22 557.85,255.25 557.81,255.27 553.61,257.38 549.4,261.59 549.36,261.62 549.32,261.65 549.28,261.67 543.59,264.52 543.55,264.54 543.51,264.55 543.47,264.56 543.43,264.57 543.39,264.57 537.85,264.57 532.28,268.75 532.24,268.78 532.2,268.8 532.15,268.82 532.11,268.83 525.8,270.23 521.76,273.6 521.07,277.7 521.07,277.75 521.05,277.79 521.04,277.82 521.02,277.86 520.99,277.9 520.97,277.93 520.94,277.96 520.9,277.99 520.87,278.01 515.18,281.57 515.14,281.59 509.65,284.33 508.97,287.68 508.96,287.72 508.95,287.76 508.93,287.8 508.9,287.84 508.88,287.88 508.85,287.91 508.82,287.94 508.78,287.96 504.56,290.78 500.32,295.02 500.28,295.05 500.24,295.08 500.2,295.1 496.18,297.11"/>
<polygon class="c2" points="465.2,224.99 467.98,221.83 473.04,220.57 474.56,222.47 471.14,225.63 467.35,226.89"/>
<polygon class="c2" points="500.6,201.61 501.49,198.82 504.01,197.18 504.39,199.71 502.37,202.24"/>
<polygon class="c2" points="534.54,191.61 535.8,187.81 538.96,186.55 538.71,189.71 536.43,192.62"/>
<polygon class="c2" points="553.88,179.6 556.03,176.43 559.19,174.92 560.46,177.07 557.29,179.6 554.77,180.86"/>
<polygon class="c2" points="586.37,224.48 587.64,221.95 590.8,220.05 593.07,220.68 592.06,223.21 589.28,225.49 587,225.74"/>
<polygon class="c2" points="651.8,159.71 653.11,161.68 656.76,160.95 662.25,158.59 662.27,158.59 668.55,156.23 673.12,153.18 674.28,148.82 671.76,146.43 665.7,147.49 659.46,150.61 654.04,154.48 651.8,159.71"/>
<polygon class="c2" points="620.5,188.15 622.95,193.05 625.23,196.84 628.58,197.68 631.57,193.04 633.93,188.32 633.95,188.28 633.98,188.25 634,188.22 634.03,188.19 634.07,188.17 638.81,185.01 638.85,184.98 643.58,182.62 647.45,180.3 649.74,177.24 652.08,171.77 653.59,166.96 651.27,164.51 646.83,166.87 642.13,170.8 642.09,170.82 637.35,173.98 637.31,174.01 632.57,176.38 632.55,176.39 627.08,178.73 622.16,183.2 620.5,188.15"/>
<polygon class="c2" points="603.37,204.6 606.33,206.21 610.33,203.99 614.22,199.32 617.34,194.64 618.85,190.57 617.39,187.36 615.08,186 612.18,188.9 609.05,194.39 609.04,194.4 605.57,199.91 603.37,204.6"/>
<polygon class="c2" points="601.91,212.5 603.93,213.34 608.5,210.75 614.28,207.15 618.04,203.09 617.45,201.06 614.42,202.44 608.93,206.05 604.24,209.48 601.91,212.5"/>
<polygon class="c2" points="633.18,169.23 635.55,167.65 637.92,169.23 635.55,171.28"/>
<polygon class="c2" points="643.77,163.7 646.61,162.43 647.88,164.49 645.03,166.07"/>
<polygon class="c2" points="595.74,203.19 597.32,199.24 600.8,196.87 601.59,199.24 599.22,203.19 596.85,204.77"/>
<polygon class="c2" points="637.4,203.7 640.2,204.34 643.94,201.65 647,196.76 647,193.63 643.7,195.61 639.04,200.26 637.4,203.7"/>
<polygon class="c2" points="630.02,215.83 632.08,212.35 635.55,209.83 637.45,211.09 635.24,215.04 631.6,217.41"/>
<polygon class="c2" points="618.49,226.57 620.55,223.73 624.49,221.83 626.86,221.83 624.81,224.99 621.02,227.2"/>
<polygon class="c2" points="683.39,125.16 684.81,122.03 688.36,119.89 691.92,120.6 690.5,124.16 686.23,126.29"/>
<polygon class="c2" points="700.91,136.91 701.68,138.02 703.89,138.38 706.58,135.97 710.11,132 710.14,131.97 710.17,131.95 710.21,131.92 710.24,131.91 710.28,131.89 714.53,130.48 720.89,127.37 727.28,123.82 732.81,120.35 733.4,117.39 728.91,116.75 721.21,118.14 716.32,120.66 711.38,124.46 706.43,129.13 702.22,133.63 700.91,136.91"/>
<polygon class="c2" points="741.28,131.27 742.42,128.85 745.26,127.72 745.97,129.85 743.56,131.7"/>
<polygon class="c2" points="673.43,141.66 675.56,139.1 679.12,137.67 680.54,139.38 678.41,141.66"/>
<polygon class="c2" points="671.14,170.22 673.47,171.38 678.25,170.02 683.17,167.21 688.13,163.66 693.08,160.12 697.3,155.91 699.96,151.93 698.88,150.63 694.19,151.57 689.3,154.37 684.33,157.92 684.31,157.93 678.65,161.47 673.74,165.67 671.14,170.22"/>
<polygon class="c2" points="684.34,228.9 685.28,229.57 688.74,227.97 693.23,224.89 697.19,220.65 697.21,220.62 697.24,220.6 697.27,220.58 701.77,217.77 704.44,214.69 703.77,210.61 703.76,210.57 703.76,210.53 703.76,210.49 703.77,210.45 703.78,210.41 703.8,210.37 703.82,210.34 703.84,210.3 706.69,206.46 706.71,206.44 709.55,203.17 709.57,203.14 709.6,203.12 713.13,200.29 715.82,197.19 715.15,193.54 715.14,193.5 715.14,193.47 715.14,193.43 715.15,193.39 715.16,193.35 715.17,193.32 715.19,193.28 715.21,193.25 715.23,193.22 715.25,193.19 715.28,193.17 715.31,193.14 715.34,193.12 719.59,190.72 723.72,187.55 724.34,184.43 722.68,183.56 719.36,185.96 714.4,190.91 714.38,190.94 710.11,194.49 705.14,198.74 700.18,203.7 695.97,208.62 693.99,213.24 695.85,214.48 695.88,214.5 695.91,214.53 695.94,214.56 695.96,214.59 695.98,214.62 696,214.66 696.01,214.69 696.02,214.73 696.03,214.77 696.03,214.81 696.03,214.85 696.02,214.89 696.01,214.93 696,214.96 695.98,215 695.96,215.03 695.94,215.06 695.91,215.09 690.94,220.06 686,225.71 684.34,228.9"/>
<polygon class="c2" points="749.2,169.64 751.34,166.79 756.32,163.95 758.45,164.66 757.74,167.22 753.47,169.64 750.2,170.63"/>
<polygon class="c2" points="519.94,407.47 521.2,404.3 525.63,400.26 530.68,396.97 535.74,392.93 538.9,390.65 540.16,392.29 537.64,396.09 533.21,399.88 528.15,403.67 523.73,407.09 520.82,408.73"/>
<polygon class="c2" points="548.38,405.57 550.28,402.41 553.44,399.25 556.6,397.73 557.23,400.51 554.7,404.3 551.54,407.09 549.39,407.09"/>
<polygon class="c3" points="355.04,464.16 356.3,465.43 361.21,464.03 368.32,461.18 368.33,461.17 368.34,461.17 375.42,459.76 378.45,457.02 376.85,455.02 368.4,456.44 361.31,459.97 355.04,464.16"/>
<polygon class="c3" points="379.89,468.39 381.9,470.39 386.8,467.6 392.48,464.04 398.13,460.09 398.8,457.42 395.41,457.15 388.34,459.98 382.68,464.22 379.89,468.39"/>
<polygon class="c3" points="356.84,473.36 359.17,475.68 364.07,475.4 368.22,473.33 367.55,470.64 362.68,469.66 357.79,471.35 356.84,473.36"/>
<polygon class="c3" points="358.69,450.63 360.54,449.2 361.96,450.63 360.26,452.05"/>
<polygon class="c3" points="363.5,426.23 364.62,427 368.34,425.52 373.37,422.38 376.5,418.62 377.11,414.94 375.34,413.76 371.63,416.23 366.58,421.9 363.5,426.23"/>
<polygon class="c3" points="377.39,420.56 379.17,422.7 385.43,421.08 385.43,421.08 393.01,419.44 399.3,417.93 402.43,414.42 402.44,414.41 402.45,414.4 402.46,414.4 406.84,411.65 407.44,408.65 404.43,408.05 398.14,409.93 393.08,411.83 393.07,411.83 386.76,413.73 379.85,416.88 377.39,420.56"/>
<polygon class="c3" points="387.35,407.29 389.25,406.03 389.88,407.93 387.98,408.56"/>
<polygon class="c3" points="384.19,409.19 386.09,408.56 386.47,410.46 384.44,410.71"/>
<polygon class="c3" points="404.67,426.26 405.43,424.11 406.95,424.11 407.2,426.26 406.06,427.52"/>
<polygon class="c3" points="384.44,435.11 386.72,432.2 388.62,431.95 389.25,433.46 387.35,435.11"/>
<polygon class="c3" points="386.36,384.68 387.78,379.7 390.63,376.86 391.34,380.41 389.2,384.68 387.07,386.1"/>
<polygon class="c3" points="391.48,386.07 392.78,387.37 396.26,385.29 396.27,385.28 402.67,382.44 402.68,382.44 409.79,379.59 409.79,379.59 415.41,377.48 416.09,373.39 412.68,372.71 405.59,374.83 398.5,376.97 393.57,380.49 391.48,386.07"/>
<polygon class="c3" points="392.76,369.74 396.32,366.9 397.03,369.03 394.18,371.45"/>
<polygon class="c3" points="403.43,374.72 405.56,371.88 408.41,369.74 409.83,371.17 407.7,374.01 404.85,375.72"/>
<polygon class="c3" points="411.39,369.76 412.72,372.43 415.46,371.07 419.72,368.22 423.91,364.73 423.26,362.78 418.4,364.16 414.18,366.29 411.39,369.76"/>
<polygon class="c3" points="417.84,357.63 419.82,358.95 425.44,357.96 431.12,355.41 436.81,352.56 436.81,352.56 442.48,349.73 446.67,346.23 446.02,344.27 441.15,344.97 434.06,347.81 426.95,351.36 421.28,354.2 417.84,357.63"/>
<polygon class="c3" points="427.08,344.84 429.06,346.57 433.26,345.45 439.65,342.61 439.67,342.61 446.77,340.47 450.94,338.38 450.28,335.44 443.99,335.72 436.9,337.85 431.24,340.68 427.08,344.84"/>
<polygon class="c3" points="446.26,329.94 447.59,331.94 452.49,332.64 458.15,330.52 463.84,328.38 463.85,328.37 463.86,328.37 472.3,326.69 472.3,320.38 462.49,322.21 455.39,324.33 449.72,327.17 446.26,329.94"/>
<polygon class="c3" points="465.31,315.69 468.15,312.13 472.42,311.14 472.42,317.11 466.73,317.82"/>
<polygon class="c3" points="400.58,356.23 402.43,354.81 403.85,356.23 402.43,358.36"/>
<polygon class="c3" points="446.56,329.67 447.87,331.25 451.36,330.96 458.46,329.25 465.56,326.7 471.93,323.87 474.67,320.44 472.7,319.12 464.21,321.24 457.11,323.37 450.03,326.2 446.56,329.67"/>
<polygon class="c3" points="466.32,314.72 467.74,311.88 470.58,312.59 469.16,315.72 467.03,316.57"/>
<polygon class="c3" points="481.96,312.59 483.39,309.03 488.36,306.19 491.92,305.48 492.35,308.32 489.08,311.17 484.81,313.3"/>
<polygon class="c3" points="491.92,302.63 494.77,299.79 496.9,300.5 494.77,303.34"/>
<polygon class="c3" points="510.6,289.75 513.96,290.42 519.62,288.3 526.73,285.45 526.73,285.45 533.84,282.61 533.85,282.61 542.3,280.07 542.3,276.88 535.34,277.86 528.23,279.98 519.71,283.54 519.7,283.54 512.63,286.37 510.6,289.75"/>
<polygon class="c3" points="529.76,272.77 531.11,275.47 535.28,274.77 542.3,272.95 542.3,265.82 532.53,269.3 529.76,272.77"/>
<polygon class="c3" points="510.08,287.66 510.08,289.64 512.11,290.59 517.03,289.61 524.13,286.06 524.14,286.06 531.24,283.21 536.79,279.75 535.52,278.47 529.9,279.89 515.7,284.14 510.08,287.66"/>
<polygon class="c3" points="530.69,272 530.29,274.7 532.71,275.37 537.63,273.26 541.12,269.77 540.45,267.11 534.91,268.5 530.69,272"/>
<polygon class="c3" points="550.07,262.7 553.34,258.43 557.61,256.58 558.32,259.14 554.77,262.7 551.49,264.83"/>
<polygon class="c3" points="554.19,271.96 555.25,274.63 558.26,273.25 563.94,269.71 568.85,266.2 568.19,263.56 562.64,264.94 557.69,267.76 554.19,271.96"/>
<polygon class="c3" points="571.12,242.07 575.39,239.22 580.37,238.51 581.37,241.36 578.24,244.2 573.26,244.91"/>
<polygon class="c3" points="561.88,251.32 565.43,249.47 568.28,249.89 566.86,252.03 563.3,253.02"/>
<polygon class="c3" points="653.55,158.15 654.91,159.91 658.35,158.41 663.88,155.58 663.89,155.57 669.34,153.24 670.78,150.36 668.68,148.96 662.5,150.51 656.27,153.62 653.55,158.15"/>
<polygon class="c3" points="624.75,187.42 625.52,190.47 626.53,192.62 629.06,191.92 631.38,187.28 631.39,187.25 631.41,187.23 635.36,182.49 635.37,182.47 635.39,182.46 640.13,178.51 640.15,178.49 640.17,178.48 645.67,175.35 650.27,170.74 649.62,168.79 645.16,171.02 638.86,175.75 638.84,175.76 632.52,179.7 632.51,179.71 627.05,182.83 624.75,187.42"/>
<polygon class="c3" points="641.87,180.28 643.77,177.6 646.3,177.91 645.35,180.76 643.14,181.86"/>
<polygon class="c3" points="596.37,202.4 598.43,198.77 600.48,198.77 599.53,201.93 597.64,203.51"/>
<polygon class="c3" points="637.92,202.4 640.29,198.77 644.24,196.08 645.82,197.66 643.14,201.61 639.5,203.98"/>
<polygon class="c3" points="620.07,225.62 622.12,223.73 624.49,223.41 622.91,225.62"/>
<polygon class="c3" points="684.81,124.16 686.23,122.03 689.08,121.32 689.79,123.17 687.65,125.16"/>
<polygon class="c3" points="710,129.75 711.14,130.56 714.56,128.92 719.54,126.07 719.55,126.07 725.23,123.23 729.96,120.25 728.79,118.74 722.57,119.71 716.93,122.25 711.33,125.74 710,129.75"/>
<polygon class="c3" points="701.88,136.25 703.3,133.41 705.43,133.69 705.72,136.25 703.73,137.96"/>
<polygon class="c3" points="742.13,129.85 743.84,128.43 745.26,129.42 743.84,130.85"/>
<polygon class="c3" points="675.91,168.17 677.28,168.96 680.41,167.33 684.67,164.49 689.64,160.95 693.82,157.45 694.48,154.21 691.98,153.59 688.52,156.36 682.83,161.34 682.82,161.35 677.89,164.87 675.91,168.17"/>
<polygon class="c3" points="686.04,227.48 687.5,228.04 691.21,225.99 695.45,221.74 695.47,221.73 699.73,218.17 703.17,215.15 702.57,212.99 698.6,214.32 692.95,219.26 688,224.21 686.04,227.48"/>
<polygon class="c3" points="695.26,212.52 697.03,213.12 701.18,211.04 704.69,207.94 708.24,203.97 708.26,203.96 708.27,203.95 711.81,201.1 715.25,197.67 714.64,195.82 710.63,195.16 706.46,198.63 701.5,203.6 697.26,208.55 695.26,212.52"/>
<polygon class="c3" points="719.81,188.49 721.23,184.94 723.36,183.94 724.08,186.36 721.94,189.2"/>
<polygon class="c3" points="527.52,402.41 529.42,398.62 534.48,394.44 538.27,391.92 539.28,393.56 536.37,397.35 531.95,400.76 528.79,403.67"/>
<polygon class="c3" points="521.2,406.83 522.47,403.67 525.63,401.78 526.26,403.67 523.73,406.83"/>
<polygon class="c3" points="549.39,404.94 551.54,402.03 554.07,400.76 554.45,403.04 552.17,405.57 550.28,406.2"/>
<polygon class="c3" points="606.33,202.4 608.7,196.87 612.65,191.34 615.02,188.97 616.28,191.34 614.23,196.08 610.28,201.61 607.91,203.98"/>
<polygon class="c4" points="632.39,182.34 635.24,179.49 637.92,179.18 636.82,181.86 633.97,184.23"/>
<polygon class="c4" points="711.12,128.43 712.83,126.01 715.11,126.58 713.97,129.14 711.83,129.85"/>
<polygon class="c4" points="720.37,122.74 722.5,121.32 724.21,122.31 722.5,124.16"/>
<polygon class="c4" points="677.7,166.12 680.54,163.28 682.67,163.99 680.54,166.83"/>
<polygon class="c4" points="689.08,156.88 691.21,154.74 692.63,156.17 690.5,158.3"/>
<polygon class="c4" points="700.6,202.72 703.45,199.87 705.58,201.29 704.16,204.14 701.32,204.85"/>
<polygon class="c4" points="696.34,210.54 698.47,207.7 700.6,209.12 698.47,211.54"/>
<polygon class="c4" points="689.22,224.77 691.36,222.35 692.78,223.77 690.65,226.19"/>
<polygon class="hole" points="364.81,465.56 368.36,464.14 374.77,464.14 376.9,465.56 374.05,468.41 371.92,470.54 368.36,467.7 365.23,466.98"/>
<polygon class="hole" points="411.25,364.77 414.1,362.92 417.65,362.63 416.94,364.77 413.39,366.19"/>
<polyline class="b" points="28.25,22.5 87.5,28.25 146.5,35"/>
<polyline class="b" points="149.5,10 146.5,35 134,159 123,280"/>
<polyline class="b" points="134,159.25 200,164.6 265,169 330,172.2 384.5,174.25 384.02,174.19 388.53,179.24 397.53,184.64 405.63,188.78 409.24,188.24 411.04,183.74 414.64,183.74 418.24,184.64 423.64,183.74 428.15,184.64 434.45,183.38 439.85,183.74 443.45,187.34 447.05,189.5 452.46,190.94 454.26,192.74 458.76,193.28 462,197.24 464.92,197.38 466.16,201.13 468.03,205.49 472.4,206.12 475.52,206.74 478.02,208.61 478.64,214.85"/>
<polyline class="b" points="469.66,145.98 469.91,148.72 472.4,151.84 472.15,157.46 470.16,159.33 470.53,162.45 474.9,163.7 476.39,168.69 475.52,172.43 473.65,174.93 473.03,179.92 470.53,186.15 468.03,189.9 467.41,193.02 469.28,196.14 473.03,199.88 473.4,203 475.52,207.11"/>
<polyline class="b" points="478.18,208.45 478.56,215.03 480.06,220.67 482.88,226.3 484.75,232.88 488.51,239.45 490.39,246.03 493.21,250.72 491.71,256.36 491.71,263.87 495.09,267.63 496.03,271.39 499.78,272.33 498.84,278.9 501.1,282.66 500.35,288.3 501.66,293.93 502.6,301.45 503.54,308.96 502.98,316.48 501.25,316 506.25,321 507.5,326 511.25,334.75 512.5,343.5 518.75,348.5 523.75,361 530,364.75 530,364 540,369.75 543.75,368.5 548,374.75 546.25,378.5 541.25,383.5 538.75,389.75 542.5,396 547.5,402.25 548.75,408.5 555,412.25 561.25,414"/>
<polyline class="b" points="561.25,414 561.25,474 562,577.75 563.75,588.5"/>
<polyline class="b" points="28.25,271.75 123,280 215.5,289"/>
<polyline class="b" points="215.5,289 213.75,316 211.25,351 202.25,474 197.5,534.5"/>
<polyline class="b" points="211.25,351 265,354.25 330,357.8 395,360.5 460,362 528.75,362.75"/>
<polyline class="b" points="28.25,519.75 149.5,531.5 197.5,534.5 265,539.5 327.5,543.25 395,545.25 465,546.3 530,547.25 561.25,547"/>
<polyline class="b" points="149.5,531.5 147,562"/>
<polyline class="b" points="145,562 265,570.25 295,572.25 294.5,588.5"/>
<polyline class="b" points="145,562 142.5,588.5"/>
<polyline class="b" points="463.67,10.74 460.55,12.99 461.8,16.73 466.16,22.35 473.65,29.21 477.39,34.2 477.64,40.44 477.14,86.85 476.8,145.8"/>
<polyline class="b" points="469.7,146 530,145.8 600,144.7 660,143.4 710.5,142"/>
<polyline class="b" points="632.5,10.5 632.5,15 638.75,18.75 639.5,45 637.5,66.25 650,76.25 660,80 665,86.25 675,92.5 685,105 695,110 705,117.5 708.75,130 711.25,142.5 712.5,150 717.5,152.5 718.75,158 716.25,158 715,168 718.75,180.5 722.5,189.25 735,193 740,199.25 742,203 750,210.5 755,218 763.75,224.25 765,235.5 761.25,245.5 757.5,256.75 750,261.75 740,266.75 727.5,269.25 723.75,275.5 723.75,283 730,289.25 730,298 726.25,305.5 723.75,316 723.75,316 715,319.75 710.5,324.75 712,333.5 708.75,335.5 707,341 707,351 710,363.5 715,374.75 727.5,386 730,391 745,401 747.5,411 750,421 753.75,425.5 757.5,423.5 760,419.75 770,422.25 777,427.25 773.75,436 773.75,443.5 766.25,458.5 767.5,464.75 777.5,474 773.75,474 780,479 787.5,482.75 788.75,485.25 795,484 795,484 805,491.5 810,497.75 811.25,506.5 813,510.25 813.96,510 814.6,515.06 811.43,518.85 812.07,522.64 815.86,527.7 819.02,533.39 822.18,536.55 823.82,535.28 824.71,532.76 825.97,536.55 828.5,537.18 832.29,538.45 832.93,542.87 830.4,546.66 832.93,550.46 829.13,553.62 831.03,558.04 828.5,563.1 825.34,563.73 822.18,560.57 820.28,564.36 819.02,569.42 817.12,571.95 815.23,568.15 815.86,565.63 813.33,564.61 811.43,566.89 812.7,570.68 815.23,573.21 813.96,576.37 810.8,578.27 813.96,581.43 812.07,583.96 807.64,585.85 808.91,588.38"/>
<polyline class="b" points="742,202.5 795,198.5 869.5,194.25"/>
<polyline class="b" points="507.5,325.5 530,326 590,326 650,323.3 695,320.25 695,320.25 705,331 708.75,334.75"/>
<polyline class="b" points="562,577.75 650,575.5 720,573 783.75,570.25 783.75,570.25 786.25,574 785,576.5 788,580.25 787.5,585.25 784.5,588.5"/>
<polyline class="b" points="886.25,239.25 892,316 898,386 898,386 893.75,389.75 896.25,396 892.5,401 897.5,407.25 900,414.75 902.5,423.5 900,431 896.25,438.5 892.5,443.5 888.75,452.25 882.5,456 882.76,455 883.39,458.79 885.28,461.32 882.12,464.48 883.39,467.64 880.86,468.91 880.23,473.96 881.49,476.49 878.33,478.39 880.23,480.92 878.96,482.81 881.49,484.71 880.86,487.24 877.07,491.66 876.43,495.46 878.96,499.25 881.24,502.41 880.23,504.3 872.01,506.2 867.59,509.36 862.53,509.99 860.63,513.15 861.9,518.21 865.69,524.53 864.42,529.59 861.9,531.49 860,531.49 856.31,528.96 851.89,527.07 843.04,523.27 837.35,522.64 832.93,525.8 829.77,531.49 828.5,536.55"/>
<polyline class="b" points="917.5,235.5 1011.25,225.5"/>
<polyline class="b" points="1011.6,229.5 1026.25,227.5"/>
<polyline class="b" points="1011.25,225.5 1021.25,316 1026.25,369.75"/>
<polyline class="b" points="1026.25,408.5 1015,415.5 1007.5,413.5 1001.25,416 1003.75,426 995,433.5 993.75,442.25 986.25,444.75 982.5,452.25 981.25,462.25 976.25,464.75 967.5,461 962.5,453.5 958.75,453.5 961.25,457.25 957.35,456.9 956.08,460.69 954.18,462.59 955.45,467.01 952.29,469.54 950.39,475.23 947.86,473.96 947.23,472.07 944.07,472.7 939.65,467.64 935.85,470.17 930.16,472.7 928.27,479.02 925.74,480.92 923.21,478.39 910.57,472.7 906.78,474.6 903.62,475.23 902.35,471.43 900.46,473.96 901.72,479.02 899.19,480.92 897.93,476.49 892.87,478.39 890.34,476.49 887.18,475.86 886.3,479.65 887.81,483.45 884.65,485.34 881.49,484.71"/>
<polyline class="b" points="818.39,568.79 853.15,566.51 887.92,564.11"/>
<polyline class="b" points="886.02,553.62 896.14,554.25 904.99,553.62 960,548.25 1026.25,542.75"/>
<polyline class="b" points="851.85,10.74 851.23,13.61 852.48,16.11 858.71,15.49 861.21,17.36 859.96,21.72 858.71,26.71 861.83,30.46 865.58,32.95 871.19,33.58 872.69,26.71 877.43,21.72 881.17,16.73 884.29,10.74"/>
<polyline class="b" points="904.88,10.74 922.35,18.23"/>
<polyline class="b" points="908.62,34.2 902.13,51.04"/>
<polyline class="b" points="896.81,80 895.11,92.8"/>
<polyline class="b" points="892.55,129.5 895.11,147.57"/>
<polyline class="b" points="902.5,170.5 904.25,183 903.75,198"/>
<polyline class="b" points="895,191.75 903.75,191.75"/>
<polyline class="b" points="885,238.5 888.75,238"/>
<polyline class="b" points="894.5,237.5 906.25,236"/>
<polyline class="b" points="900,232.5 900,236.75"/>
<polyline class="b" points="347.65,111.71 348.01,117.11 348.91,120.71 344.41,124.31 343.51,127.91 340.8,130.61 342.61,132.41 346.21,132.41 348.01,137.82 349.81,141.42 348.01,143.22 349.81,145.02 355.21,147.18 358.81,153.12 361.51,156.19 366.02,158.53 366.92,162.13"/>
<polyline class="r" points="874.31,10.74 869.94,20.48 865.58,28.59"/>
<polyline class="r" points="865.58,39.82 856.22,43.56 854.35,50.42 851.23,57.91 848.73,62.9 848.11,66.64 849.98,68.51 852.48,69.14 854.97,66.02 857.47,62.9 860.59,61.03 862.46,55.41 864.95,51.04 868.7,47.93 873.06,46.05 875.56,40.44 877.43,34.82 879.93,27.96 883.67,25.47 885.54,20.48 888.03,18.61 890.53,19.23 890.53,22.97 888.66,24.22 889.28,27.96 887.41,31.08 885.54,32.95 886.16,36.07 883.67,40.44 884.29,43.56 881.8,46.68 879.3,49.17 877.43,55.41 874.93,61.65 873.06,67.89 872.69,75.37 871.19,80.36 873.06,86.85 871.92,80 874.05,87.11 869.08,94.22 866.23,101.34 865.52,109.87 868.36,116.98 867.65,122.67 864.81,128.36 864.1,135.48 861.96,141.17 860.54,149.7 862.67,153.97 861.96,161.79 864.81,165.35 865.52,170.04 867.5,170.5 870,185.5 868.75,201.75 872.5,213 880,225.5 886.25,239.25 891.25,244.25 900,245.5 910,240.5 917.5,235.5 925,228 931.25,214.25 937.5,200.5 940.5,185.5 940.5,170.5 938.75,158 939.49,170.04 938.07,157.52 935.93,151.12 932.38,141.88 925.26,129.08 919.57,118.41 921.71,114.14 924.55,108.45 922.42,102.76 921.71,97.07 918.15,92.09 923.13,85.69 925.26,80 926.09,80.36 928.58,72.88 927.96,66.64 928.83,59.15 927.34,54.79 925.84,52.29 929.83,49.17 933.33,48.55 932.58,44.18 933.33,38.57 936.07,37.94 938.57,33.58 943.56,34.45 946.05,28.59 949.79,20.48 953.79,17.36 954.54,19.48 951.29,22.72 952.91,25.47 951.42,30.46 953.29,33.58 951.42,39.19 953.29,43.56 956.66,45.43 958.78,42.31 962.89,32.95 962.89,26.71 961.65,17.98 960.4,12.99 962.89,10.74"/>
<polyline class="r" points="873.69,45.43 876.18,48.55 879.3,49.42"/>
<polyline class="r" points="955.41,44.18 954.78,35.45 956.03,31.08 957.9,31.08 958.53,36.7 957.28,44.18"/>
<polyline class="r" points="932.38,141.88 935.93,140.46"/>
<polyline class="r" points="768.12,92.4 768.41,97.09 766.7,102.78 764.85,106.34 767.27,109.89 767.7,117.01 764.85,115.58 762.01,112.74 763.43,109.18 761.58,102.78 764.14,98.51 767.27,94.25 768.12,92.4"/>
<polyline class="t" points="304.29,10.74 304.29,12.99 309.28,16.11 311.15,20.48 311.4,27.96 310.53,35.45 309.28,41.06 309.28,42.93 311.4,43.31 310.53,47.3 308.03,46.68 305.54,48.55 304.92,54.79 302.42,57.28 299.93,60.4 296.18,62.27 293.69,64.14 294.31,67.89 296.18,70.38 299.93,71.01 299.93,75.37 301.17,77.87 303.42,79.12 303.04,82.24 296.18,82.24 293.69,79.12 291.82,76.62 294.93,76 290.57,72.25 289.94,66.64 290.57,62.9 288.07,60.4 283.71,61.03 278.71,61.65 276.22,62.9 272.48,62.27 267.49,63.27 271.23,59.78 278.09,59.15 278.71,56.91 282.46,57.28 283.08,54.79 286.2,56.03 288.07,52.92 293.06,54.79 296.18,59.15 297.43,54.16 299.93,56.03 302.42,51.67 301.8,44.18 306.79,43.56 307.16,41.06 308.03,35.45 309.28,27.96 308.03,20.48 303.67,16.11 300.55,11.12 304.29,10.74"/>
<polyline class="t" points="366.02,162.13 368.72,163.03 373.22,163.93 375.92,167.53 381.32,169.33 381.32,171.13 375.02,170.23 372.32,166.63 367.82,164.83 365.66,163.39 366.02,162.13"/>
<polyline class="t" points="217.5,270.5 223.75,271 231.25,273.5 234.5,276 232.5,277.5 226.25,275.5 220,272.5 217.5,270.5"/>
<polyline class="t" points="831.38,90.24 838.49,92.09 839.2,108.45 836.36,113.43 834.22,116.27 832.8,112.01 829.96,105.6 829.67,99.91 832.09,94.22 831.38,90.24"/>
<polyline class="t" points="873.38,532.76 877.17,539.08 882.23,547.93 885.39,553.62 887.92,559.94 889.56,565.63 891.71,571.95 894.87,579.53 896.77,585.85 895.51,587.75 894.24,585.85 892.98,579.53 889.82,571.95 888.3,565.63 886.66,559.94 884.13,553.62 880.34,547.29 875.91,539.71 873.38,532.76"/>
<polyline class="t" points="877.17,533.39 880.97,532.12 882.23,530.23 887.29,530.86 887.92,535.28 889.18,538.45 892.98,540.34 894.24,541.35 892.35,544.13 890.83,547.93 892.98,551.72 896.14,553.62 895.13,557.03 893.86,554.25 891.08,552.35 889.18,547.93 887.92,542.87 886.02,538.45 885.39,534.65 883.5,533.39 880.97,535.28 879.45,537.18 877.17,533.39"/>
<polyline class="t" points="886.02,569.42 884.76,573.21 883.5,575.74 885.39,577 886.28,580.16 887.04,575.74 888.55,570.68 888.81,567.52"/>
<polyline class="t" points="1015,550.25 1017.5,546.5 1021.25,545.25 1020,541.5 1023.75,540.25 1026.25,542.75 1024.5,546.5 1021.25,547.75 1018.75,550.25 1015,550.25"/>
<polyline class="t" points="960,547 960.5,549"/>
</g>
<rect x="190.5" y="14.5" width="674.5" height="26" fill="#fff" fill-opacity="0.62" stroke="#000" stroke-opacity="0.66" stroke-width="1"/>
<text class="ttl" x="194" y="32" textLength="665" lengthAdjust="spacing">Maximum updraft velocities in the lowest 400hPa (m/s) Valid: 201805012300</text>
<rect x="28.5" y="10.5" width="998" height="578" fill="none" stroke="#000" stroke-width="1.2"/>
<rect x="28.5" y="588.5" width="125.25" height="11" fill="#1d00dc"/>
<rect x="153.25" y="588.5" width="125.25" height="11" fill="#5ecb10"/>
<rect x="278" y="588.5" width="125.25" height="11" fill="#fa4c05"/>
<rect x="402.75" y="588.5" width="125.25" height="11" fill="#970000"/>
<rect x="527.5" y="588.5" width="125.25" height="11" fill="#5e0000"/>
<rect x="652.25" y="588.5" width="125.25" height="11" fill="#300000"/>
<rect x="777" y="588.5" width="125.25" height="11" fill="#f9c6f7"/>
<rect x="901.75" y="588.5" width="125.25" height="11" fill="#ffeafe"/>
<rect x="28.5" y="588.5" width="998" height="11" fill="none" stroke="#000" stroke-width="1.2"/>
<text class="tick" x="28.5" y="618.7" textLength="35.8" lengthAdjust="spacingAndGlyphs">5.00</text>
<text class="tick" x="153.25" y="618.7" textLength="46.0" lengthAdjust="spacingAndGlyphs">10.00</text>
<text class="tick" x="278" y="618.7" textLength="46.0" lengthAdjust="spacingAndGlyphs">15.00</text>
<text class="tick" x="402.75" y="618.7" textLength="46.0" lengthAdjust="spacingAndGlyphs">20.00</text>
<text class="tick" x="527.5" y="618.7" textLength="46.0" lengthAdjust="spacingAndGlyphs">25.00</text>
<text class="tick" x="652.25" y="618.7" textLength="46.0" lengthAdjust="spacingAndGlyphs">30.00</text>
<text class="tick" x="777" y="618.7" textLength="46.0" lengthAdjust="spacingAndGlyphs">35.00</text>
<text class="tick" x="901.75" y="618.7" textLength="46.0" lengthAdjust="spacingAndGlyphs">40.00</text>
<text class="tick" x="1026.5" y="618.7" textLength="46.0" lengthAdjust="spacingAndGlyphs">45.00</text>
<line x1="153.25" y1="594" x2="153.25" y2="599.5" stroke="#000" stroke-width="0.8"/>
<line x1="278" y1="594" x2="278" y2="599.5" stroke="#000" stroke-width="0.8"/>
<line x1="402.75" y1="594" x2="402.75" y2="599.5" stroke="#000" stroke-width="0.8"/>
<line x1="527.5" y1="594" x2="527.5" y2="599.5" stroke="#000" stroke-width="0.8"/>
<line x1="652.25" y1="594" x2="652.25" y2="599.5" stroke="#000" stroke-width="0.8"/>
<line x1="777" y1="594" x2="777" y2="599.5" stroke="#000" stroke-width="0.8"/>
<line x1="901.75" y1="594" x2="901.75" y2="599.5" stroke="#000" stroke-width="0.8"/>
</svg></body></html>
